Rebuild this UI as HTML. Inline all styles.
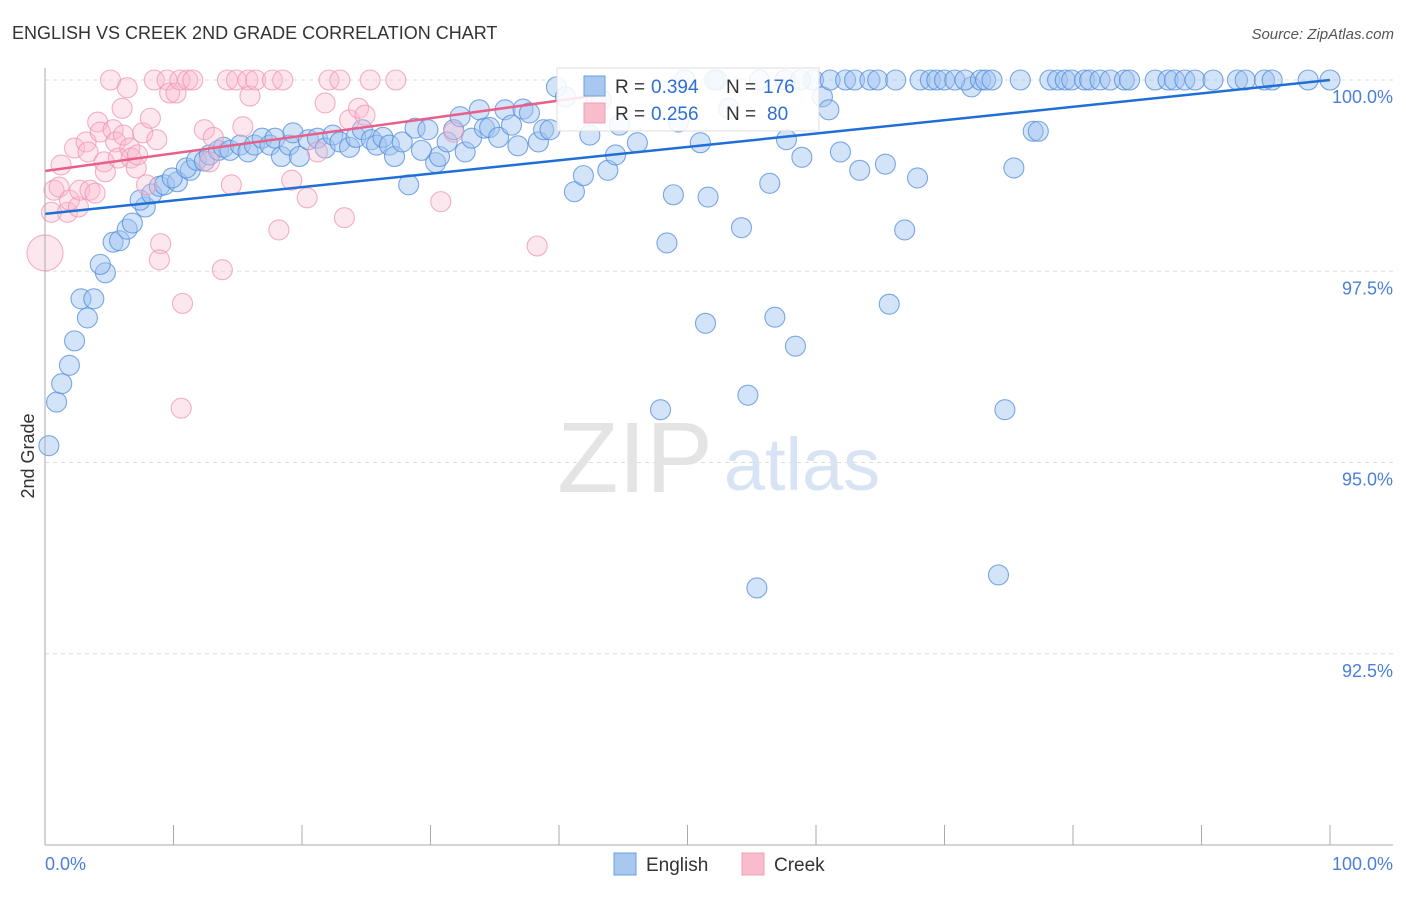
<!DOCTYPE html>
<html><head><meta charset="utf-8">
<style>
body{margin:0;background:#fff;font-family:"Liberation Sans",sans-serif;}
svg text{font-family:"Liberation Sans",sans-serif;}
</style></head>
<body>
<svg id="chart" width="1406" height="892" viewBox="0 0 1406 892" xmlns="http://www.w3.org/2000/svg">
<text x="12" y="39" font-size="18" fill="#333">ENGLISH VS CREEK 2ND GRADE CORRELATION CHART</text>
<text x="1394" y="39" font-size="15" fill="#555" text-anchor="end" font-style="italic">Source: ZipAtlas.com</text>
<g id="grid"></g>
<g>
<text x="635" y="492" font-size="100" fill="#e4e4e4" font-family="Liberation Serif" text-anchor="middle">ZIP</text>
<text x="802" y="490" font-size="74" fill="#d8e4f4" text-anchor="middle">atlas</text>
</g>
<g id="pts"></g>
<g id="lines"></g>
<g id="axes"></g>
<text transform="translate(34,456) rotate(-90)" font-size="18" fill="#333" text-anchor="middle">2nd Grade</text>
<g>
<rect x="557" y="68" width="262" height="63" fill="#fff" fill-opacity="0.85" stroke="#ddd"/>
<rect x="584" y="76" width="21" height="20" fill="#a8c8f0" stroke="#6a9fe0"/>
<rect x="584" y="103" width="21" height="20" fill="#f8bccd" stroke="#f0a0b8"/>
<text x="615" y="93" font-size="19" fill="#333">R =</text>
<text x="651" y="93" font-size="19" fill="#2f6fd0">0.394</text>
<text x="726" y="93" font-size="19" fill="#333">N =</text>
<text x="763" y="93" font-size="19" fill="#2f6fd0">176</text>
<text x="615" y="120" font-size="19" fill="#333">R =</text>
<text x="651" y="120" font-size="19" fill="#2f6fd0">0.256</text>
<text x="726" y="120" font-size="19" fill="#333">N =</text>
<text x="767" y="120" font-size="19" fill="#2f6fd0">80</text>
</g>
<g>
<rect x="614" y="853" width="22" height="22" fill="#a8c8f0" stroke="#6a9fe0"/>
<text x="646" y="871" font-size="19" fill="#333">English</text>
<rect x="742" y="853" width="22" height="22" fill="#f8bccd" stroke="#f0a0b8"/>
<text x="774" y="871" font-size="19" fill="#333">Creek</text>
</g>
</svg>
<script>
const yTicks=[92.5,95,97.5,100];
const yTickLabels=["92.5%","95.0%","97.5%","100.0%"];
const xTickLabels=["0.0%","100.0%"];
const englishX=[0.3,0.9,1.3,1.9,2.3,3.3,2.8,3.8,4.7,4.3,5.3,5.8,6.4,6.8,7.8,7.4,8.3,8.9,9.3,10.3,9.9,11.3,11.0,11.8,12.4,12.8,13.5,13.9,14.4,15.2,15.8,16.3,16.9,17.5,17.9,18.4,19.0,19.3,19.8,20.5,21.2,21.8,22.4,22.95,23.7,24.2,24.7,25.4,25.8,26.3,26.8,27.2,27.8,28.3,28.8,29.3,29.8,30.4,30.7,31.3,31.8,32.3,32.7,33.2,33.8,34.2,34.6,35.3,35.8,36.3,36.8,37.2,37.7,38.4,38.8,39.3,39.8,40.5,41.2,41.9,42.4,43.3,43.8,44.4,44.7,46.1,47.9,48.4,48.9,49.3,49.8,51.0,51.4,51.6,52.3,53.2,54.2,54.7,55.4,56.4,56.8,57.7,58.4,58.9,59.8,60.5,61.0,61.9,63.4,65.4,65.7,66.9,67.9,72.1,74.2,74.7,75.4,76.9,77.3,52.1,55.6,57.6,58.8,61.1,62.3,63.0,64.2,64.8,66.2,68.1,68.9,69.4,70.0,70.8,71.6,72.8,73.2,73.7,75.9,78.2,78.8,79.4,79.9,80.9,81.3,82.1,82.9,84.0,84.4,86.4,87.4,87.9,88.7,89.5,90.9,92.8,93.4,94.9,95.5,98.3,100];
const englishY=[95.22,95.79,96.03,96.27,96.59,96.89,97.14,97.14,97.48,97.59,97.88,97.9,98.05,98.13,98.34,98.43,98.51,98.61,98.63,98.67,98.72,98.82,98.85,98.95,98.94,99.02,99.08,99.12,99.08,99.15,99.06,99.15,99.24,99.15,99.24,99.0,99.15,99.31,99.0,99.22,99.24,99.11,99.28,99.19,99.12,99.25,99.35,99.22,99.15,99.25,99.15,99.0,99.19,98.63,99.37,99.08,99.35,98.92,99.0,99.19,99.35,99.52,99.06,99.24,99.61,99.37,99.38,99.25,99.61,99.41,99.14,99.62,99.57,99.19,99.35,99.35,99.91,99.78,98.54,98.75,99.28,99.74,98.82,99.02,99.41,99.18,95.69,97.87,98.5,99.45,100,99.18,96.82,98.47,100,99.63,98.07,95.88,93.36,98.65,96.9,99.22,96.52,98.99,100,99.78,99.61,99.06,98.82,98.9,97.07,98.04,98.72,99.91,93.53,95.69,98.85,99.33,99.33,100,100,100,100,100,100,100,100,100,100,100,100,100,100,100,100,100,100,100,100,100,100,100,100,100,100,100,100,100,100,100,100,100,100,100,100,100,100,100,100,100,100];
const creekX=[0,0.5,0.7,1.1,1.25,1.75,1.9,2.3,2.6,2.7,3.2,3.35,3.5,3.9,4.1,4.3,4.6,4.7,5.1,5.3,5.5,5.7,6.0,6.1,6.4,6.6,6.7,7.1,7.2,7.6,7.9,8.2,8.5,8.7,9.0,8.9,9.5,9.7,10.2,10.5,10.7,10.6,11.1,11.5,12.4,12.8,13.1,13.8,14.2,14.5,14.9,15.4,15.8,15.95,16.4,17.7,18.2,18.5,19.2,20.4,21.2,21.8,22.1,22.95,23.3,23.7,24.4,24.9,25.3,27.3,30.8,31.8,38.3,42.9];
const creekY=[97.74,98.27,98.56,98.6,98.89,98.27,98.43,99.11,98.34,98.56,99.19,99.06,98.56,98.52,99.45,99.32,98.93,98.8,100,99.35,99.19,98.98,99.63,99.28,99.9,99.11,98.98,98.85,99.02,99.31,98.63,99.5,100,99.22,97.86,97.65,100,99.83,99.83,100,97.08,95.71,100,100,99.35,98.93,99.25,97.52,100,98.63,100,99.39,100,99.79,100,100,98.04,100,98.69,98.46,99.06,99.7,100,100,98.2,99.48,99.63,99.54,100,100,98.41,99.32,97.83,99.74];
const englishTrend=[0,98.25,100,100];
const creekTrend=[0,98.81,43,99.8];
const NS='http://www.w3.org/2000/svg';
const X0=45,X1=1330,YT=80,YB=845;
function xs(v){return X0+(X1-X0)*v/100;}
function ys(v){return YB-(YB-YT)*(v-90)/10;}
function mk(t,a,p){const e=document.createElementNS(NS,t);for(const k in a)e.setAttribute(k,a[k]);p.appendChild(e);return e;}
const grid=document.getElementById('grid'),axes=document.getElementById('axes'),pts=document.getElementById('pts'),lines=document.getElementById('lines');
yTicks.forEach((t,i)=>{
  const l=mk('line',{x1:X0,x2:1393,y1:ys(t),y2:ys(t),stroke:'#ddd','stroke-dasharray':'4,4'},grid);
  
  
  const tx=mk('text',{x:1393,y:ys(t)+23,'font-size':18,fill:'#4a7fd8','text-anchor':'end'},axes);
  tx.textContent=yTickLabels[i];
  
  
});
const ax=mk('line',{x1:X0,x2:X0,y1:68,y2:YB,stroke:'#aaa'},axes);


const bx=mk('line',{x1:X0,x2:1393,y1:YB,y2:YB,stroke:'#aaa'},axes);


for(let i=1;i<=10;i++){
  const tk=mk('line',{x1:xs(i*10),x2:xs(i*10),y1:YB,y2:YB-20,stroke:'#aaa'},axes);
  
  
}
[[0,'start',0],[100,'end',1]].forEach(([v,a,i])=>{
  const tx=mk('text',{x:i?1393:X0,y:870,'font-size':18,fill:'#4a7fd8','text-anchor':a},axes);
  tx.textContent=xTickLabels[i];
  
  
});
englishX.forEach((x,i)=>{
  const c=mk('circle',{cx:xs(x),cy:ys(englishY[i]),r:10,fill:'rgba(160,196,240,0.45)',stroke:'rgba(80,140,220,0.75)','stroke-width':1.1},pts);
  
  
});
creekX.forEach((x,i)=>{
  const c=mk('circle',{cx:xs(x),cy:ys(creekY[i]),r:i==0?18:10,fill:'rgba(248,185,205,0.35)',stroke:'rgba(238,150,178,0.75)','stroke-width':1.1},pts);
  
  
});
const l1=mk('line',{x1:xs(englishTrend[0]),y1:ys(englishTrend[1]),x2:xs(englishTrend[2]),y2:ys(englishTrend[3]),stroke:'#1f6fd6','stroke-width':2.5},lines);


const l2=mk('line',{x1:xs(creekTrend[0]),y1:ys(creekTrend[1]),x2:xs(creekTrend[2]),y2:ys(creekTrend[3]),stroke:'#e8608a','stroke-width':2.5},lines);


</script>
</body></html>
